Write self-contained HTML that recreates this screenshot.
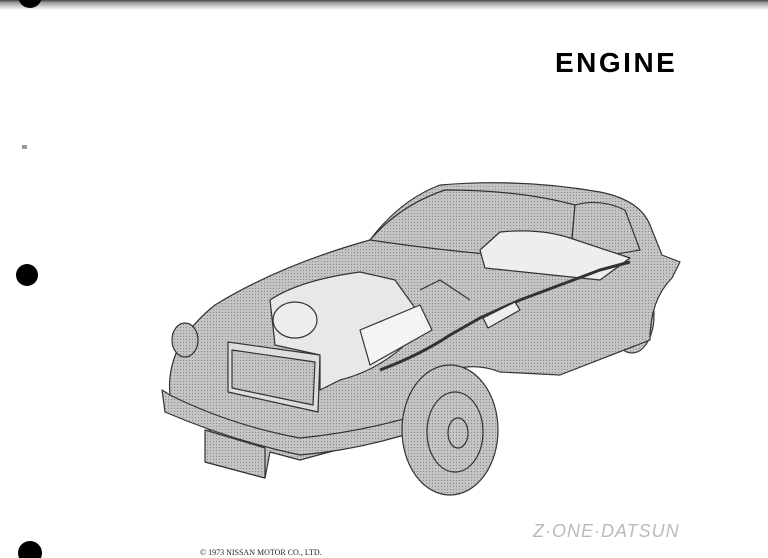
<!DOCTYPE html>
<html><head><meta charset="utf-8"><style>
html,body{margin:0;padding:0;background:#fff}
body{width:768px;height:558px;position:relative;overflow:hidden;font-family:"Liberation Sans",sans-serif}
</style></head><body>
<svg width="768" height="558" viewBox="0 0 768 558" xmlns="http://www.w3.org/2000/svg" style="position:absolute;left:0;top:0">
<defs>
<linearGradient id="tg" x1="0" y1="0" x2="0" y2="1"><stop offset="0" stop-color="#444"/><stop offset="0.25" stop-color="#999"/><stop offset="1" stop-color="#fff"/></linearGradient>
<pattern id="ht" width="3" height="3" patternUnits="userSpaceOnUse"><rect width="3" height="3" fill="#c4c4c4"/><rect width="1" height="1" fill="#8a8a8a"/></pattern>
</defs>
<rect x="0" y="0" width="768" height="10" fill="url(#tg)"/>
<circle cx="30" cy="-4" r="12" fill="#000"/>
<circle cx="27" cy="275" r="11" fill="#000"/>
<circle cx="30" cy="553" r="12" fill="#000"/>
<rect x="22" y="145" width="5" height="4" fill="#999"/>
<text x="555" y="72" font-family="Liberation Sans" font-weight="bold" font-size="28" letter-spacing="2.5" fill="#000">ENGINE</text>
<g stroke="#333" stroke-width="1.2" stroke-linejoin="round">
<ellipse cx="632" cy="315" rx="22" ry="38" fill="url(#ht)"/>
<path d="M170,395 Q165,345 215,305 Q280,265 370,240 Q400,200 440,185 Q520,178 600,192 Q640,200 650,225 L662,255 L680,262 L672,278 Q650,300 650,340 L560,375 L500,372 Q470,360 440,375 Q420,400 410,430 L300,460 L270,452 L265,478 L205,462 L210,430 L168,410 Z" fill="url(#ht)"/>
<path d="M370,240 Q400,205 445,190 Q520,190 575,205 L570,260 Q470,255 370,240 Z" fill="url(#ht)"/>
<path d="M575,205 Q600,198 625,210 L640,250 L570,262 Z" fill="url(#ht)"/>
<path d="M162,390 L165,412 Q230,440 300,455 Q360,450 420,430 L418,415 Q360,432 300,438 Q230,425 170,395 Z" fill="url(#ht)"/>
<path d="M205,430 L265,448 L265,478 L205,462 Z" fill="url(#ht)"/>
<ellipse cx="185" cy="340" rx="13" ry="17" fill="url(#ht)"/>
<ellipse cx="450" cy="430" rx="48" ry="65" fill="url(#ht)"/>
<ellipse cx="455" cy="432" rx="28" ry="40" fill="none"/>
<ellipse cx="458" cy="433" rx="10" ry="15" fill="none"/>
<path d="M480,250 L500,232 Q540,228 570,238 L630,258 L600,280 L485,268 Z" fill="#eee"/>
<path d="M228,342 L320,355 L318,412 L228,392 Z" fill="#ddd"/>
<path d="M232,350 L315,362 L313,405 L232,388 Z" fill="url(#ht)"/>
<path d="M270,300 Q300,280 360,272 L395,280 L420,315 L410,340 Q380,370 340,380 L320,390 L320,355 L275,345 Z" fill="#e8e8e8"/>
<path d="M360,330 L420,305 L432,330 L370,365 Z" fill="#f4f4f4"/>
<ellipse cx="295" cy="320" rx="22" ry="18" fill="#eee"/>
<path d="M380,370 Q420,355 450,335 L480,318 L520,300 L600,270 L630,262" fill="none" stroke-width="3"/>
<path d="M483,318 L515,302 L520,310 L488,328 Z" fill="#eee"/>
<path d="M420,290 L440,280 L470,300" fill="none"/>
</g>
<text x="533" y="537" font-family="Liberation Sans" font-style="italic" font-size="18" letter-spacing="1" fill="#bbb">Z·ONE·DATSUN</text>
<text x="200" y="555" font-family="Liberation Serif" font-size="8" fill="#222">© 1973 NISSAN MOTOR CO., LTD.</text>
</svg>
</body></html>
